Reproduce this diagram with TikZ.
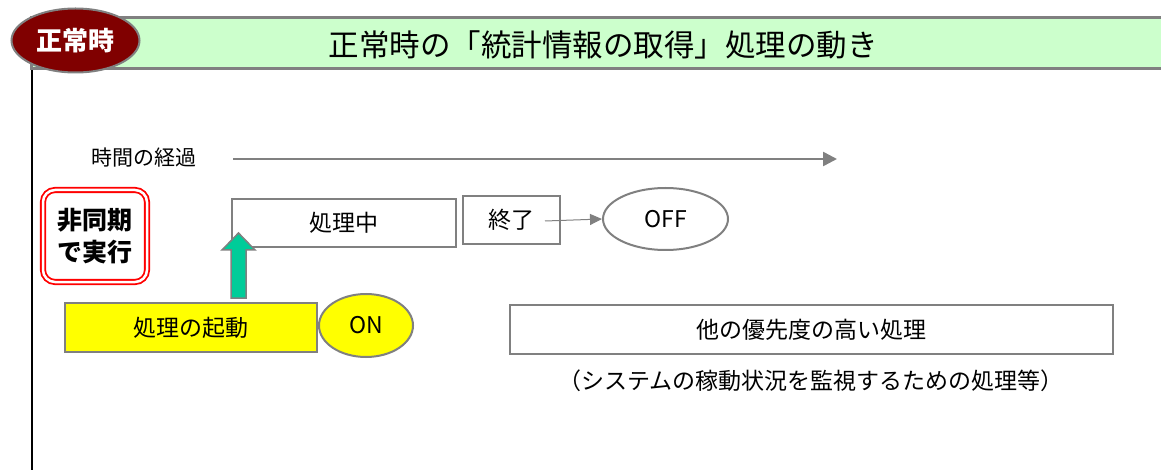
\documentclass[tikz,border=0pt]{standalone}
\usepackage{fontspec}
\setmainfont{Noto Sans CJK JP}
\usetikzlibrary{arrows.meta,shapes.geometric}
\definecolor{hdrgreen}{HTML}{CCFFCC}
\definecolor{modered}{HTML}{800000}
\definecolor{bordergray}{HTML}{808080}
\definecolor{arrowgreen}{HTML}{00CC99}
\definecolor{boxyellow}{HTML}{FFFF00}
\begin{document}
\begin{tikzpicture}[x=1pt,y=-1pt,
  box/.style={draw=bordergray, line width=2pt, fill=white, inner sep=0pt, font=\fontsize{23}{27}\selectfont},
  oval/.style={ellipse, draw=bordergray, line width=2pt, inner sep=0pt, font=\fontsize{23}{27}\selectfont},
  grayarrow/.style={bordergray, line width=2.5pt, -{Triangle[length=14pt,width=14pt]}},
  thinarrow/.style={bordergray, line width=1pt, -{Triangle[length=12pt,width=11pt]}}]
\useasboundingbox (0,0) rectangle (1161,470);
\fill[white] (0,0) rectangle (1161,470);
% left vertical line
\draw[line width=2pt] (32,60) -- (32,470);
% header band
\node[draw=bordergray, fill=hdrgreen, line width=2.5pt, minimum width=1160pt, minimum height=51pt, anchor=north west, inner sep=0pt] (header) at (30,16.5) {};
\node[font=\fontsize{30.5}{34}\selectfont] (title) at (603,45) {正常時の「統計情報の取得」処理の動き};
\node[ellipse, fill=modered, draw=bordergray, line width=2pt, minimum width=128pt, minimum height=64pt, inner sep=0pt, text=white, font=\bfseries\fontsize{26}{30}\selectfont] (mode) at (75.5,40.5) {正常時};
% time axis
\node[anchor=west, inner sep=0pt, font=\fontsize{21}{24}\selectfont] (time) at (91,158) {時間の経過};
\coordinate (ts) at (233,159);
\coordinate (te) at (837,159);
\draw[grayarrow] (ts) -- (te);
% async box
\node[draw=red, double=white, double distance=2.5pt, line width=1.8pt, rounded corners=12pt, minimum width=104pt, minimum height=92pt, align=center, inner sep=0pt, font=\bfseries\fontsize{25}{32}\selectfont] (async) at (95,236) {非同期\\で実行};
% processing
\node[box, minimum width=224pt, minimum height=48pt] (proc) at (344,223) {処理中};
\node[box, minimum width=97pt, minimum height=48pt] (end) at (511.5,220) {終了};
\node[oval, minimum width=125pt, minimum height=62pt] (off) at (665.5,219) {OFF};
\coordinate (es) at (545,221);
\draw[thinarrow] (es) -- (off.west);
% startup
\node[box, fill=boxyellow, minimum width=252pt, minimum height=49pt] (start) at (191,327.5) {処理の起動};
\node[oval, fill=boxyellow, minimum width=94pt, minimum height=63pt] (on) at (366,325.5) {ON};
% block arrow
\draw[fill=arrowgreen, draw=bordergray, line width=1.5pt] (231,298) -- (231,250) -- (222,250) -- (238.5,233) -- (255,250) -- (246,250) -- (246,298) -- cycle;
% high priority
\node[box, minimum width=603pt, minimum height=49pt] (prio) at (811.5,329.5) {他の優先度の高い処理};
\node[inner sep=0pt, font=\fontsize{23}{27}\selectfont] (note) at (811,381) {（システムの稼動状況を監視するための処理等）};
\end{tikzpicture}
\end{document}
